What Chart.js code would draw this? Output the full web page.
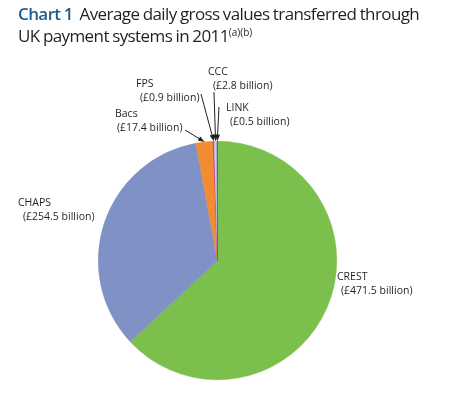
<!DOCTYPE html>
<html>
<head>
<meta charset="utf-8">
<script src="https://cdn.jsdelivr.net/npm/chart.js@4/dist/chart.umd.min.js"></script>
<style>
  body { margin: 0; background: #fff; }
  #wrap { position: relative; width: 460px; height: 401px; }
  #title {
    position: absolute; left: 18px; top: 3px; width: 440px;
    font-family: "Open Sans", sans-serif; font-size: 17px; line-height: 22px;
    color: #231f20; letter-spacing: -0.6px; word-spacing: -0.5px;
  }
  #title .num { color: #1d5a8e; font-weight: 600; }
  #title sup { font-size: 10px; vertical-align: 6px; line-height: 0; letter-spacing: 0; }
  canvas { position: absolute; left: 0; top: 0; }
</style>
</head>
<body>
<div id="wrap">
  <canvas id="paymentsPie" width="460" height="401"></canvas>
  <div id="title"><span class="num">Chart 1</span>&nbsp; Average daily gross values transferred through<br>UK payment systems in 2011<sup>(a)(b)</sup></div>
</div>
<script>
var systems = ["CREST", "CHAPS", "Bacs", "FPS", "CCC", "LINK"];
var dailyValues = [471.5, 254.5, 17.4, 0.9, 2.8, 0.5];
var sliceColours = ["#7bbf4c", "#7f91c5", "#f28c30", "#c2187c", "#c8cde8", "#1f5c9e"];

// where each label sits and where its arrow starts (null = no arrow)
var labelLayout = [
  { x: 337, y: 280, indent: 4, tail: null },
  { x: 18, y: 206, indent: 5, tail: null },
  { x: 115, y: 117, indent: 2, tail: [185, 130] },
  { x: 136, y: 87, indent: 4, tail: [201, 94] },
  { x: 208, y: 75, indent: 5, tail: [214, 92] },
  { x: 226, y: 111, indent: 4, tail: [219, 107] }
];

var calloutPlugin = {
  id: 'callouts',
  afterDraw: function(chart) {
    var ctx = chart.ctx;
    var arcs = chart.getDatasetMeta(0).data;
    ctx.save();
    ctx.font = '10.5px "Open Sans", sans-serif';
    ctx.fillStyle = '#231f20';
    ctx.textBaseline = 'alphabetic';
    systems.forEach(function(name, i) {
      var pos = labelLayout[i];
      ctx.fillText(name, pos.x, pos.y);
      ctx.fillText('(£' + dailyValues[i].toFixed(1) + ' billion)', pos.x + pos.indent, pos.y + 14);
      if (pos.tail) {
        var a = arcs[i];
        var mid = (a.startAngle + a.endAngle) / 2;
        var tx = a.x + Math.cos(mid) * a.outerRadius;
        var ty = a.y + Math.sin(mid) * a.outerRadius;
        var ang = Math.atan2(ty - pos.tail[1], tx - pos.tail[0]);
        ctx.strokeStyle = '#231f20';
        ctx.lineWidth = 1;
        ctx.beginPath();
        ctx.moveTo(pos.tail[0], pos.tail[1]);
        ctx.lineTo(tx - Math.cos(ang) * 3, ty - Math.sin(ang) * 3);
        ctx.stroke();
        ctx.beginPath();
        ctx.moveTo(tx, ty);
        ctx.lineTo(tx - Math.cos(ang - 0.35) * 7, ty - Math.sin(ang - 0.35) * 7);
        ctx.lineTo(tx - Math.cos(ang + 0.35) * 7, ty - Math.sin(ang + 0.35) * 7);
        ctx.closePath();
        ctx.fill();
      }
    });
    ctx.restore();
  }
};

new Chart('paymentsPie', {
  type: 'pie',
  data: {
    labels: systems,
    datasets: [{
      data: dailyValues,
      backgroundColor: sliceColours,
      borderColor: sliceColours,
      borderWidth: 0.5
    }]
  },
  options: {
    responsive: false,
    animation: false,
    layout: { padding: { left: 98, right: 123, top: 141, bottom: 21 } },
    plugins: {
      legend: { display: false },
      tooltip: { enabled: false }
    }
  },
  plugins: [calloutPlugin]
});
</script>
</body>
</html>
